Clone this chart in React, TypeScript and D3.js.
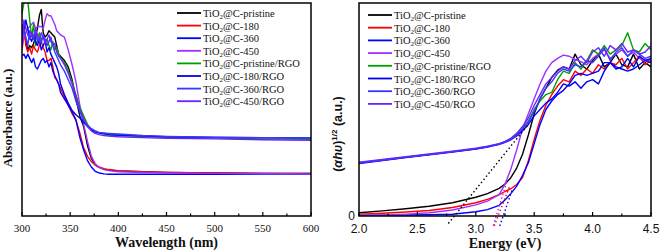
import React from 'react';
import * as d3 from 'd3';

// ---------- Left panel: UV-vis absorbance ----------
const WAVELENGTH = [300, 302, 304, 306, 308, 310, 312, 314, 316, 318, 320, 322, 324, 326, 328, 330, 332, 334, 336, 338, 340, 344, 348, 352, 356, 360, 364, 368, 372, 376, 380, 385, 390, 400, 425, 450, 500, 550, 600];

const absPristine = [88, 86, 82, 78, 80, 79, 81, 84, 88, 94, 97, 86, 84, 85, 87, 86, 85, 84, 80, 76, 75, 73, 70, 64, 55, 47, 42, 33, 27, 24, 22.8, 22, 21.6, 21.2, 20.8, 20.5, 20.2, 20, 20];
const abs180 = [84, 90, 80, 77, 79, 76, 80, 78, 77, 80, 82, 79, 77, 73, 73, 74, 70, 65, 64, 62, 60, 56, 52, 48, 45, 39, 32, 28, 25.5, 24, 23, 22.2, 21.8, 21.3, 20.8, 20.5, 20.2, 20, 20];
const abs360 = [75, 76, 74, 76, 74, 72, 74, 70, 69, 71, 73, 74, 72, 73, 70, 72, 68, 66, 64, 62, 58, 55, 52, 49, 45, 37, 31, 26, 23, 21, 20.2, 19.8, 19.6, 19.6, 19.6, 19.6, 19.6, 19.7, 19.7];
const abs450 = [78, 84, 86, 88, 89, 90, 91, 88, 89, 89, 89, 88, 92, 95, 94, 94, 92, 90, 87, 86, 85, 84, 78, 71, 63, 52, 43, 35, 28, 24.5, 22.8, 21.8, 21.3, 20.8, 20.4, 20.2, 20, 20, 19.8];
const absPristineRGO = [95, 100, 103, 101, 92, 84, 90, 80, 82, 86, 83, 84, 82, 83, 80, 78, 82, 78, 79, 76, 74, 72, 68, 63, 57, 51, 47, 43, 40.5, 39.5, 39, 38.5, 38, 37.8, 37.3, 37, 36.6, 36.2, 36];
const abs180RGO = [90, 86, 92, 88, 84, 82, 85, 82, 80, 83, 78, 80, 82, 77, 79, 76, 74, 72, 70, 67, 62, 57, 53, 49.5, 47.5, 46, 44, 42, 40.5, 39.5, 39, 38.8, 38.2, 38, 37.6, 37.2, 36.9, 36.8, 36.6];
const abs360RGO = [82, 88, 84, 80, 87, 85, 83, 86, 82, 84, 81, 85, 83, 80, 82, 84, 80, 77, 75, 73, 71, 68, 64, 60, 54, 49, 45, 42.5, 41, 40, 39.2, 39, 38.8, 38.5, 37.8, 37.4, 37, 36.8, 36.6];
const abs450RGO = [80, 92, 88, 85, 83, 86, 84, 88, 85, 82, 86, 84, 81, 83, 85, 82, 80, 81, 77, 75, 74, 71, 67, 62, 56, 50, 45.5, 42, 40, 38.8, 38.2, 37.8, 37.5, 37.2, 36.8, 36.5, 36.2, 35.8, 35.5];

const LEFT_MAJOR = [300, 350, 400, 450, 500, 550, 600];
const LEFT_MINOR = [325, 375, 425, 475, 525, 575];

// ---------- Right panel: Tauc plot ----------
const ENERGY = [2.0, 2.2, 2.4, 2.6, 2.8, 3.0, 3.1, 3.2, 3.25, 3.3, 3.35, 3.4, 3.45, 3.5, 3.55, 3.6, 3.65, 3.7, 3.75, 3.8, 3.85, 3.9, 3.95, 4.0, 4.05, 4.1, 4.15, 4.2, 4.25, 4.3, 4.35, 4.4, 4.45, 4.5];

const taucPristine = [1.5, 2.4, 3.4, 4.6, 6.2, 8.8, 10.5, 13, 15, 18, 22.5, 29, 38, 48, 55, 60, 65, 68.5, 70, 69, 76, 71, 69, 73, 76, 70, 72, 76, 71, 70, 76, 69, 72, 70];
const tauc180 = [0.9, 1.3, 1.9, 2.6, 4.0, 6.2, 7.8, 10, 11.5, 12.8, 14.8, 18, 26, 36, 45, 52, 57, 61, 64, 63, 68, 66, 69, 67, 71, 69, 72, 71, 74, 69, 72, 75, 71, 73];
const tauc360 = [0.3, 0.4, 0.5, 0.6, 0.8, 2.0, 3.0, 5.0, 7.5, 10.5, 14, 19, 25, 34, 43, 50, 54, 57, 59, 62, 66, 67, 66, 67, 68, 72, 72, 70, 69, 68, 69, 71, 73, 72];
const tauc450 = [0.3, 0.5, 0.9, 1.5, 2.8, 5.2, 7, 10, 15, 22, 31, 41, 48, 55, 62, 68, 72, 74, 75.5, 75, 73.5, 72.5, 71, 74, 76, 78, 74, 76, 78, 75, 77, 74, 73, 73];
const taucPristineRGO = [25, 26.3, 27.6, 28.9, 30.2, 31.6, 32.6, 33.8, 34.8, 36.2, 38.2, 41, 44.5, 50, 54, 57, 58, 64, 68, 67, 72, 69, 73, 78, 76, 80, 76, 78, 80, 86, 78, 77, 81, 78];
const tauc180RGO = [24.6, 26, 27.4, 28.7, 30, 31.4, 32.4, 33.6, 34.6, 35.8, 37.6, 40, 43, 47, 50, 53, 55, 58, 62, 61, 63, 60, 63, 64, 62, 68, 72, 69, 70, 74, 70, 75, 73, 74];
const tauc360RGO = [24.8, 26.1, 27.5, 28.8, 30.1, 31.5, 32.5, 33.7, 34.7, 36, 38, 40.8, 44, 49, 55, 60, 63, 67, 69, 68, 71, 70, 73, 72, 75, 79, 73, 77, 79, 75, 78, 76, 74, 75];
const tauc450RGO = [25.2, 26.5, 27.8, 29.1, 30.4, 31.8, 32.8, 34, 35, 36.5, 38.8, 42, 46, 52, 57, 62, 65, 68, 70, 69, 73, 75, 72, 77, 79, 75, 80, 78, 81, 77, 78, 76, 77, 80];

// tangent (extrapolation) lines: [E, value] end points
const fitPristineRGO: [number, number][] = [[2.765, -3.5], [3.45, 43]];
const fit180: [number, number][] = [[3.158, -4.7], [3.29, 14]];
const fit450: [number, number][] = [[3.15, -4.5], [3.27, 17]];
const fit360: [number, number][] = [[3.205, -4.7], [3.31, 12]];

const RIGHT_MAJOR = [2.0, 2.5, 3.0, 3.5, 4.0, 4.5];
const RIGHT_MINOR = [2.25, 2.75, 3.25, 3.75, 4.25];

const NAMES = ['C-pristine', 'C-180', 'C-360', 'C-450', 'C-pristine/RGO', 'C-180/RGO', 'C-360/RGO', 'C-450/RGO'];
const COLORS = ['#000000', '#ff0000', '#0000ff', '#a030ff', '#00a000', '#0000f0', '#3838ff', '#6a22ff'];

const LEFT_SERIES = [absPristine, abs180, abs360, abs450, absPristineRGO, abs180RGO, abs360RGO, abs450RGO];
const RIGHT_SERIES = [taucPristine, tauc180, tauc360, tauc450, taucPristineRGO, tauc180RGO, tauc360RGO, tauc450RGO];
const FITS = [
  { pts: fitPristineRGO, color: '#000000' },
  { pts: fit180, color: '#ff0000' },
  { pts: fit450, color: '#a030ff' },
  { pts: fit360, color: '#0000ff' },
];

const SERIF = '"Liberation Serif", "Times New Roman", serif';
const SANS = '"Liberation Sans", Arial, sans-serif';

function Legend({ x, y0, step }: { x: number; y0: number; step: number }) {
  return (
    <g>
      {NAMES.map((n, i) => {
        const y = y0 + i * step;
        return (
          <g key={n}>
            <line x1={x} x2={x + 24} y1={y} y2={y} stroke={COLORS[i]} strokeWidth={1.8} />
            <text x={x + 26} y={y + 4} fontFamily={SERIF} fontSize={10.5} fill="#111">
              TiO<tspan fontSize={7} dy={2}>2</tspan>
              <tspan dy={-2}>@{n}</tspan>
            </text>
          </g>
        );
      })}
    </g>
  );
}

export default function App() {
  const top = 3;
  const bottom = 216;
  const xL = d3.scaleLinear().domain([300, 600]).range([22, 311]);
  const yL = d3.scaleLinear().domain([0, 100]).range([bottom, top]);
  const xR = d3.scaleLinear().domain([2.0, 4.5]).range([359, 651]);
  const yR = d3.scaleLinear().domain([0, 100]).range([bottom, top]);

  const lineL = (vals: number[]) =>
    d3.line<number>().x((_, i) => xL(WAVELENGTH[i])).y((v) => yL(v))(vals) || '';
  const lineR = (vals: number[]) =>
    d3.line<number>().x((_, i) => xR(ENERGY[i])).y((v) => yR(v))(vals) || '';
  const fitLine = d3.line<[number, number]>().x((d) => xR(d[0])).y((d) => yR(d[1]));

  return (
    <svg width={661} height={252} style={{ position: 'fixed', left: 0, top: 0, background: '#fff' }}>
      <defs>
        <clipPath id="clipL">
          <rect x={xL(300)} y={top} width={xL(600) - xL(300)} height={bottom - top} />
        </clipPath>
        <clipPath id="clipR">
          <rect x={xR(2)} y={top} width={xR(4.5) - xR(2)} height={bottom - top + 2} />
        </clipPath>
      </defs>
      <rect x={0} y={0} width={661} height={252} fill="#fff" />

      {/* ---------- LEFT PANEL ---------- */}
      <g clipPath="url(#clipL)">
        {LEFT_SERIES.map((s, i) => (
          <path key={i} d={lineL(s)} fill="none" stroke={COLORS[i]} strokeWidth={1.4} strokeLinejoin="round" />
        ))}
      </g>
      <rect x={xL(300)} y={top} width={xL(600) - xL(300)} height={bottom - top} fill="none" stroke="#000" strokeWidth={1.5} />
      {LEFT_MAJOR.map((t) => (
        <g key={t}>
          <line x1={xL(t)} x2={xL(t)} y1={bottom} y2={bottom - 4} stroke="#000" strokeWidth={1.2} />
          <text x={xL(t)} y={bottom + 16} textAnchor="middle" fontFamily={SERIF} fontSize={11} fill="#111">{t}</text>
        </g>
      ))}
      {LEFT_MINOR.map((t) => (
        <line key={t} x1={xL(t)} x2={xL(t)} y1={bottom} y2={bottom - 2.5} stroke="#000" strokeWidth={1.2} />
      ))}
      <text x={(xL(300) + xL(600)) / 2} y={247} textAnchor="middle" fontFamily={SERIF} fontWeight="bold" fontSize={14} fill="#111">Wavelength (nm)</text>
      <text transform={`translate(12,118) rotate(-90)`} textAnchor="middle" fontFamily={SERIF} fontWeight="bold" fontSize={13} fill="#111">Absorbance (a.u.)</text>
      <Legend x={177} y0={13} step={12.6} />

      {/* ---------- RIGHT PANEL ---------- */}
      <g clipPath="url(#clipR)">
        {RIGHT_SERIES.map((s, i) => (
          <path key={i} d={lineR(s)} fill="none" stroke={COLORS[i]} strokeWidth={1.4} strokeLinejoin="round" />
        ))}
      </g>
      {FITS.map((f, i) => (
        <path key={i} d={fitLine(f.pts) || ''} fill="none" stroke={f.color} strokeWidth={1.4} strokeDasharray="1.5,2.5" />
      ))}
      <rect x={xR(2)} y={top} width={xR(4.5) - xR(2)} height={bottom - top} fill="none" stroke="#000" strokeWidth={1.5} />
      {RIGHT_MAJOR.map((t) => (
        <g key={t}>
          <line x1={xR(t)} x2={xR(t)} y1={bottom} y2={bottom - 4} stroke="#000" strokeWidth={1.2} />
          <text x={xR(t)} y={bottom + 17} textAnchor="middle" fontFamily={SANS} fontSize={12} fill="#111">{t.toFixed(1)}</text>
        </g>
      ))}
      {RIGHT_MINOR.map((t) => (
        <line key={t} x1={xR(t)} x2={xR(t)} y1={bottom} y2={bottom - 2.5} stroke="#000" strokeWidth={1.2} />
      ))}
      <text x={xR(2) - 4} y={yR(0) + 4} textAnchor="end" fontFamily={SANS} fontSize={12} fill="#111">0</text>
      <text x={(xR(2) + xR(4.5)) / 2} y={248} textAnchor="middle" fontFamily={SERIF} fontWeight="bold" fontSize={14} fill="#111">Energy (eV)</text>
      <text transform={`translate(342,134) rotate(-90)`} textAnchor="middle" fontFamily={SANS} fontWeight="bold" fontSize={12.5} fill="#111">
        (<tspan fontStyle="italic">αhυ</tspan>)<tspan fontSize={8} dy={-5}>1/2</tspan><tspan dy={5}> (a.u.)</tspan>
      </text>
      <Legend x={368} y0={15} step={12.7} />
    </svg>
  );
}
